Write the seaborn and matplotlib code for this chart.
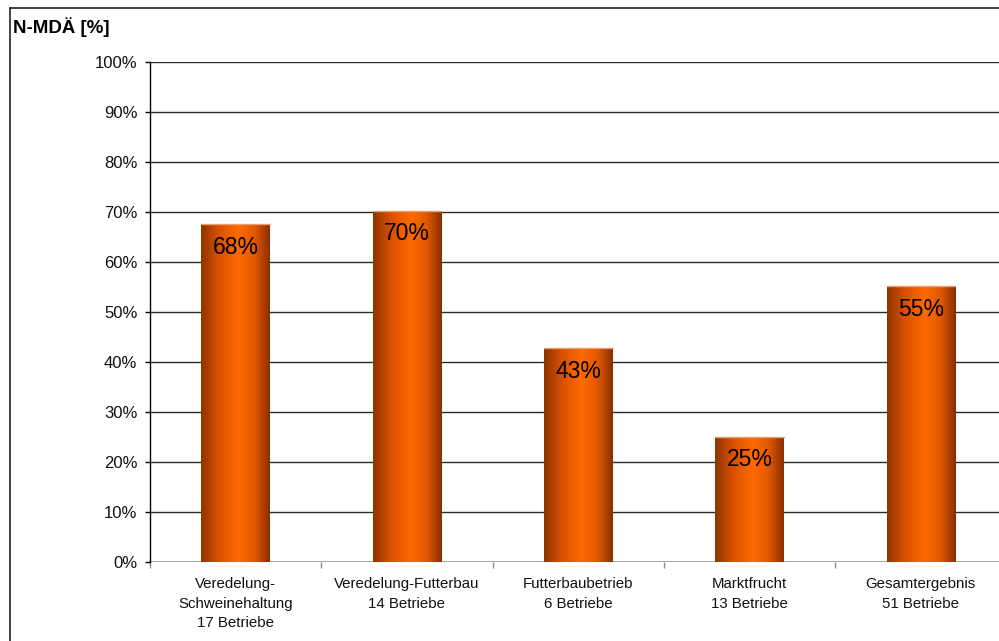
import numpy as np
import pandas as pd
import matplotlib
matplotlib.use("Agg")
import matplotlib.pyplot as plt
from matplotlib.colors import LinearSegmentedColormap
from matplotlib.lines import Line2D
import seaborn as sns

# Data
categories = [
    "Veredelung-\nSchweinehaltung\n17 Betriebe",
    "Veredelung-Futterbau\n14 Betriebe",
    "Futterbaubetrieb\n6 Betriebe",
    "Marktfrucht\n13 Betriebe",
    "Gesamtergebnis\n51 Betriebe",
]
values = [67.6, 70.2, 42.8, 25.0, 55.2]
y_ticks = [0, 10, 20, 30, 40, 50, 60, 70, 80, 90, 100]
title = "N-MDÄ [%]"

sns.set_theme(style="white")
plt.rcParams["font.family"] = ["Liberation Sans", "DejaVu Sans"]

df = pd.DataFrame({"Gruppe": categories, "Wert": values})

fig = plt.figure(figsize=(9.99, 6.41), dpi=100)
fig.patch.set_facecolor("white")
ax = fig.add_axes([150 / 999, 1 - 562 / 641, (1006.5 - 150) / 999, 500 / 641])
ax.set_facecolor("white")

sns.barplot(data=df, x="Gruppe", y="Wert", color="#ff6600", width=0.4,
            ax=ax, zorder=3, edgecolor="none")

# Horizontal shading across each column
shade = LinearSegmentedColormap.from_list(
    "column", [(0.0, "#8e3300"), (0.25, "#d65000"), (0.55, "#ff6a00"),
               (0.78, "#e05800"), (1.0, "#8a2e00")])
grad = np.linspace(0, 1, 256).reshape(1, -1)
for patch in ax.patches:
    x0 = patch.get_x()
    w = patch.get_width()
    h = patch.get_height()
    im = ax.imshow(grad, cmap=shade, aspect="auto", extent=[x0, x0 + w, 0, h],
                   zorder=4, interpolation="bilinear")
    im.set_clip_path(patch)
    ax.plot([x0, x0 + w], [h, h], color="#e8a070", lw=1, zorder=5)

# Value labels inside the columns
for i, v in enumerate(values):
    ax.text(i, v - 4.6, f"{v:.0f}%", ha="center", va="center",
            fontsize=16.5, color="black", zorder=6)

ax.set_xlim(-0.5, 4.5)
ax.set_ylim(0, 100)
ax.set_yticks(y_ticks)
ax.set_yticklabels([f"{t}%" for t in y_ticks])
ax.set_xlabel("")
ax.set_ylabel("")

# Gridlines
for t in y_ticks[1:]:
    ax.axhline(t, color="#2a2a2a", lw=1.0, zorder=1)
ax.axhline(0, color="#8c8c8c", lw=1.8, zorder=2)

for s in ["top", "right", "bottom"]:
    ax.spines[s].set_visible(False)
ax.spines["left"].set_color("black")
ax.spines["left"].set_linewidth(1.0)
ax.spines["left"].set_zorder(2)

ax.tick_params(axis="y", which="major", left=True, length=3.6, width=1,
               color="black", pad=5.5, labelsize=12, labelcolor="#111111")
ax.set_xticks(range(len(categories)))
ax.set_xticklabels(categories, fontsize=10.8, color="#111111", linespacing=1.5,
                   va="top")
ax.tick_params(axis="x", which="major", length=0, pad=11)
ax.set_xticks([-0.5, 0.5, 1.5, 2.5, 3.5, 4.5], minor=True)
ax.tick_params(axis="x", which="minor", bottom=True, length=4, width=1,
               color="#8c8c8c", direction="out")
ax.grid(False)

fig.text(13 / 999, 1 - 33 / 641, title, fontsize=13.5, fontweight="bold",
         ha="left", va="baseline", color="black")

# Frame on the left and top of the figure
fig.add_artist(Line2D([10 / 999, 10 / 999], [0, 1 - 8 / 641],
                      transform=fig.transFigure, color="#222222", lw=1.2))
fig.add_artist(Line2D([10 / 999, 1], [1 - 8 / 641, 1 - 8 / 641],
                      transform=fig.transFigure, color="#222222", lw=1.2))

fig.savefig("out.png", dpi=100)
